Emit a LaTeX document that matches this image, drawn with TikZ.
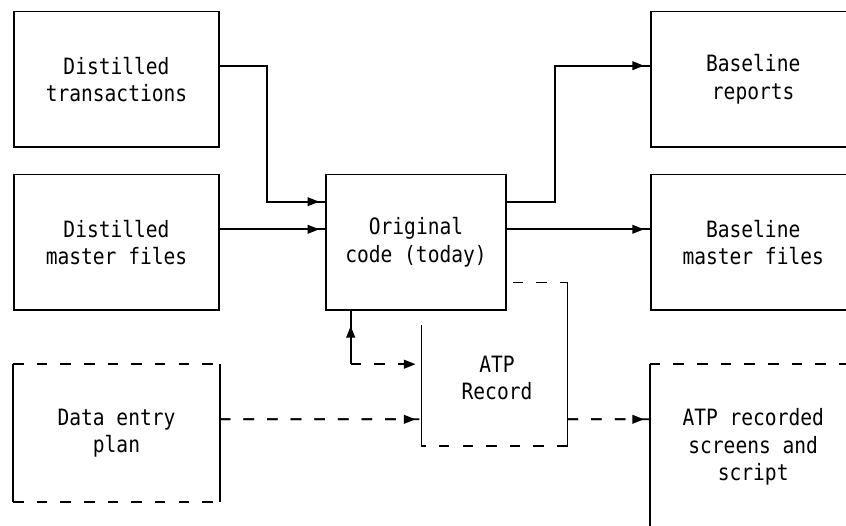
\documentclass[tikz,border=0pt]{standalone}
\usepackage{fontspec}
\newfontfamily\boxfont[FakeStretch=0.87]{DejaVu Sans Mono}
\usetikzlibrary{arrows.meta}

\tikzset{
    boxtext/.style={inner sep=0pt, align=center, font=\boxfont\fontsize{16pt}{19.4pt}\selectfont},
    box/.style={boxtext, rectangle, minimum width=5.125cm, minimum height=3.39cm},
    solidbox/.style={box, draw},
    dashline/.style={dash pattern=on 7.5pt off 9.3pt},
    link/.style={postaction={draw, -{Triangle[length=8.3pt,width=6.2pt]}, shorten >=#1}},
    link/.default=4.2pt
}

\begin{document}
\begin{tikzpicture}[x=0.025cm, y=-0.025cm, line width=1.2pt]% one unit per pixel, y downwards
    \useasboundingbox (0,0) rectangle (846,525);
    \clip (0,0) rectangle (846,525); % right hand boxes run off the page

    % Inputs
    \node[solidbox] (trans) at (116.5,79.2) {Distilled\\transactions};
    \node[solidbox] (master) at (116.5,242.2) {Distilled\\master files};
    \node[box] (plan) at (116.5,433) {Data entry\\plan};

    % Code under test
    \node[solidbox, minimum width=4.5cm] (orig) at (416,242.2) {Original\\code (today)};

    % ATP record box, its top left corner sits behind the code box
    \node[box, minimum width=3.61cm, minimum height=4.04cm] (atp) at (494.5,364.2) {};
    \node[boxtext] (atptext) at (497,378) {ATP\\Record};

    % Outputs
    \node[solidbox] (reports) at (753.2,79.2) {Baseline\\reports};
    \node[solidbox] (basemaster) at (753.2,242.2) {Baseline\\master files};
    \node[box, minimum height=4.1cm] (screens) at (753.2,447) {ATP recorded\\screens and\\script};

    % Solid sides, dashed top and bottom
    \foreach \b in {plan, screens} {
        \draw (\b.north west) -- (\b.south west) (\b.north east) -- (\b.south east);
        \draw[dashline] (\b.north west) -- (\b.north east) (\b.south west) -- (\b.south east);
    }

    % Visible part of the ATP record box
    \path (orig.east |- atp.north) ++(5.7,0) coordinate (atptop);
    \path (atp.west |- orig.south) ++(0,14) coordinate (atpside);
    \draw[dashline] (atptop) -- (atp.north east);
    \draw (atp.north east) -- (atp.south east);
    \draw[dashline] (atp.south east) -- (atp.south west);
    \draw (atp.south west) -- (atpside);

    % Solid flows
    \draw[link] ([yshift=.3375cm]trans.east) -- ++(47,0) |- ([yshift=1.0125cm]orig.west);
    \draw[link] ([yshift=.3225cm]master.east) -- ([yshift=.3225cm]orig.west);
    \draw[link] ([yshift=1.0125cm]orig.east) -- ++(48,0) |- ([yshift=.3375cm]reports.west);
    \draw[link] ([yshift=.3225cm]orig.east) -- ([yshift=.3225cm]basemaster.west);

    % Recording loop between code and ATP
    \coordinate (origfoot) at ([xshift=-1.6325cm]orig.south);
    \coordinate (loopcorner) at (origfoot |- atp.west);
    \draw[link=10.7pt] (loopcorner) -- (origfoot);
    \draw[dashline, link] (loopcorner) -- (atp.west);

    % Dashed flows
    \draw[dashline, link] ([yshift=.3425cm]plan.east) -- ([yshift=-1.3775cm]atp.west);
    \draw[dashline, link] ([yshift=-1.3775cm]atp.east) -- ([yshift=.6925cm]screens.west);
\end{tikzpicture}
\end{document}
